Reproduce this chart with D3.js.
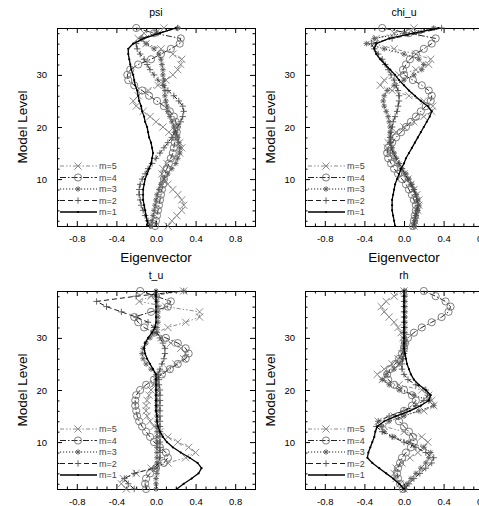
<!DOCTYPE html>
<html>
<head>
<meta charset="utf-8">
<script src="https://cdn.jsdelivr.net/npm/d3@7"></script>
<style>
  body { margin: 0; background: #fff; }
  svg { display: block; font-family: "Liberation Sans", Arial, Helvetica, sans-serif; }
</style>
</head>
<body>
<svg class="chart" width="479" height="506"></svg>
<script>
// model levels (y categories)
var levels = [1,2,3,4,5,6,7,8,9,10,11,12,13,14,15,16,17,18,19,20,
              21,22,23,24,25,26,27,28,29,30,31,32,33,34,35,36,37,38,39];

var panelNames = ["psi", "chi_u", "t_u", "rh"];
var modeNames = ["m=1", "m=2", "m=3", "m=4", "m=5"];
var xTickValues = [-0.8, -0.4, 0, 0.4, 0.8];
var xTickLabels = ["-0.8", "-0.4", "0.0", "0.4", "0.8"];
var xMinorTicks = [-0.9,-0.7,-0.6,-0.5,-0.3,-0.2,-0.1,0.1,0.2,0.3,0.5,0.6,0.7,0.9];
var yTickValues = [10, 20, 30];
var yMinorTicks = [2,4,6,8,12,14,16,18,22,24,26,28,32,34,36,38];

// eigenvectors, level 1 -> 39
var psiM1 = [-0.08,-0.09,-0.10,-0.11,-0.12,-0.13,-0.13,-0.13,-0.12,-0.11,
             -0.09,-0.07,-0.05,-0.04,-0.03,-0.04,-0.05,-0.07,-0.08,-0.09,
             -0.11,-0.12,-0.14,-0.15,-0.17,-0.18,-0.19,-0.21,-0.22,-0.23,
             -0.25,-0.26,-0.27,-0.28,-0.28,-0.23,-0.12,0.04,0.20];
var psiM2 = [-0.06,-0.08,-0.11,-0.13,-0.15,-0.16,-0.17,-0.17,-0.16,-0.14,
             -0.11,-0.08,-0.04,0.00,0.04,0.08,0.12,0.16,0.19,0.22,
             0.25,0.27,0.28,0.27,0.23,0.18,0.12,0.07,0.02,-0.02,
             -0.06,-0.09,-0.12,-0.16,-0.19,-0.20,-0.14,0.02,0.22];
var psiM3 = [-0.05,-0.04,-0.03,-0.02,-0.01,0.00,0.01,0.03,0.05,0.08,
             0.12,0.16,0.20,0.22,0.24,0.24,0.23,0.22,0.20,0.18,
             0.16,0.14,0.12,0.11,0.10,0.09,0.09,0.08,0.08,0.07,
             0.07,0.06,0.05,0.03,-0.02,-0.10,-0.15,0.00,0.22];
var psiM4 = [-0.01,0.00,0.01,0.02,0.03,0.04,0.05,0.06,0.07,0.08,
             0.09,0.11,0.13,0.15,0.17,0.18,0.19,0.20,0.21,0.21,
             0.20,0.18,0.14,0.08,0.01,-0.07,-0.14,-0.22,-0.28,-0.29,
             -0.26,-0.18,-0.05,0.05,0.15,0.24,0.25,-0.02,-0.20];
var psiM5 = [0.12,0.16,0.21,0.26,0.28,0.26,0.22,0.17,0.12,0.08,
             0.06,0.07,0.11,0.18,0.24,0.26,0.24,0.19,0.13,0.07,
             0.00,-0.06,-0.13,-0.20,-0.23,-0.18,-0.08,0.02,0.10,0.17,
             0.22,0.25,0.26,0.17,0.05,-0.10,-0.18,-0.12,0.08];

var chiM1 = [-0.09,-0.10,-0.11,-0.12,-0.12,-0.12,-0.11,-0.10,-0.09,-0.07,
             -0.05,-0.03,0.00,0.02,0.05,0.08,0.11,0.14,0.17,0.20,
             0.23,0.26,0.28,0.24,0.17,0.11,0.05,0.00,-0.05,-0.09,
             -0.14,-0.19,-0.24,-0.28,-0.30,-0.28,-0.15,0.10,0.35];
var chiM2 = [0.10,0.11,0.12,0.13,0.14,0.13,0.12,0.10,0.07,0.04,
             0.01,-0.02,-0.05,-0.08,-0.11,-0.13,-0.14,-0.14,-0.13,-0.12,
             -0.11,-0.09,-0.07,-0.06,-0.05,-0.05,-0.06,-0.08,-0.10,-0.13,
             -0.16,-0.19,-0.22,-0.26,-0.30,-0.33,-0.12,0.15,0.38];
var chiM3 = [0.10,0.11,0.12,0.14,0.15,0.14,0.12,0.10,0.08,0.05,
             0.02,-0.02,-0.05,-0.08,-0.10,-0.12,-0.13,-0.14,-0.14,-0.14,
             -0.15,-0.16,-0.18,-0.20,-0.21,-0.20,-0.17,-0.10,0.00,0.10,
             0.18,0.20,0.15,0.00,-0.20,-0.38,-0.30,0.00,0.30];
var chiM4 = [0.09,0.10,0.11,0.12,0.12,0.10,0.08,0.05,0.02,-0.02,
             -0.06,-0.10,-0.13,-0.16,-0.17,-0.16,-0.12,-0.08,-0.03,0.02,
             0.07,0.12,0.17,0.22,0.27,0.28,0.25,0.18,0.09,0.00,
             -0.01,0.02,0.06,0.12,0.20,0.28,0.32,0.05,-0.22];
var chiM5 = [0.10,0.11,0.12,0.14,0.15,0.15,0.13,0.10,0.07,0.04,
             0.00,-0.04,-0.08,-0.12,-0.15,-0.17,-0.16,-0.13,-0.08,0.00,
             0.10,0.20,0.28,0.29,0.20,0.05,-0.12,-0.24,-0.20,-0.05,
             0.12,0.25,0.27,0.12,-0.10,-0.30,-0.28,-0.10,0.10];

var tuM1 = [0.21,0.28,0.36,0.43,0.46,0.42,0.34,0.25,0.17,0.11,
            0.07,0.04,0.02,0.01,0.01,0.00,0.00,0.00,0.00,0.00,
            0.00,0.00,0.00,-0.03,-0.06,-0.09,-0.11,-0.12,-0.11,-0.08,
            -0.04,-0.01,0.00,0.00,0.00,0.00,0.00,0.00,0.00];
var tuM2 = [-0.22,-0.28,-0.32,-0.22,-0.02,0.03,0.04,0.04,0.04,0.04,
            0.04,0.04,0.04,0.04,0.04,0.04,0.04,0.04,0.04,0.04,
            0.03,0.03,0.02,0.04,0.06,0.08,0.09,0.09,0.07,0.04,
            0.01,-0.02,-0.08,-0.20,-0.35,-0.50,-0.60,-0.20,0.28];
var tuM3 = [0.00,0.00,0.00,0.01,0.01,0.01,0.01,0.01,0.01,0.01,
            0.01,0.01,0.01,0.01,0.01,0.01,0.01,0.01,0.01,0.01,
            0.01,0.01,0.00,-0.05,-0.10,-0.13,-0.14,-0.13,-0.10,-0.06,
            -0.02,0.01,0.02,0.02,0.02,0.02,0.01,0.00,0.00];
var tuM4 = [-0.10,-0.11,-0.10,-0.06,0.00,0.08,0.12,0.10,0.04,-0.02,
            -0.06,-0.10,-0.14,-0.17,-0.19,-0.20,-0.21,-0.21,-0.20,-0.16,
            -0.10,-0.02,0.06,0.14,0.22,0.30,0.33,0.30,0.22,0.10,
            -0.02,-0.12,-0.18,-0.22,-0.05,0.12,0.15,0.00,-0.16];
var tuM5 = [-0.30,-0.35,-0.33,-0.20,-0.05,0.12,0.30,0.40,0.33,0.22,
            0.12,0.04,-0.02,-0.06,-0.09,-0.10,-0.10,-0.09,-0.07,-0.05,
            -0.03,0.00,0.05,0.12,0.20,0.28,0.30,0.25,0.15,0.05,
            0.00,0.12,0.30,0.44,0.44,0.10,-0.17,-0.05,0.28];

var rhM1 = [0.00,-0.05,-0.11,-0.18,-0.25,-0.32,-0.37,-0.36,-0.34,-0.32,
            -0.30,-0.29,-0.27,-0.20,-0.08,0.06,0.17,0.25,0.27,0.22,
            0.15,0.10,0.07,0.05,0.03,0.02,0.01,0.00,0.00,0.00,
            0.00,0.00,0.00,0.00,0.00,0.00,0.00,0.00,0.00];
var rhM2 = [0.01,0.05,0.10,0.16,0.22,0.28,0.30,0.22,0.12,0.00,
            -0.12,-0.22,-0.28,-0.26,-0.15,0.00,0.12,0.20,0.24,0.22,
            0.12,0.04,0.00,-0.02,-0.02,-0.01,0.00,0.00,0.00,0.00,
            0.00,0.00,0.00,0.00,0.00,0.00,0.00,0.00,0.00];
var rhM3 = [0.00,0.03,0.07,0.12,0.17,0.22,0.25,0.27,0.20,0.05,
            -0.10,-0.20,-0.23,-0.15,0.00,0.15,0.30,0.25,0.10,-0.05,
            -0.15,-0.22,-0.18,-0.10,-0.05,-0.02,0.00,0.00,0.01,0.01,
            0.01,0.01,0.01,0.01,0.01,0.01,0.01,0.01,0.01];
var rhM4 = [-0.01,-0.04,-0.06,-0.07,-0.06,-0.04,-0.02,0.02,0.07,0.10,
            0.09,0.05,0.00,-0.05,-0.06,0.00,0.08,0.12,0.08,0.00,
            -0.10,-0.16,-0.17,-0.14,-0.09,-0.05,-0.02,0.00,0.01,0.04,
            0.10,0.18,0.28,0.38,0.45,0.47,0.42,0.32,0.20];
var rhM5 = [0.00,-0.04,-0.08,-0.10,-0.08,-0.02,0.06,0.14,0.20,0.24,
            0.18,0.00,-0.20,-0.26,-0.10,0.20,0.30,0.28,0.25,0.18,
            -0.05,-0.22,-0.27,-0.20,-0.12,-0.06,-0.02,0.00,0.00,-0.01,
            -0.03,-0.06,-0.10,-0.15,-0.20,-0.23,-0.18,-0.10,0.00];

var panelSeries = [
    [psiM1, psiM2, psiM3, psiM4, psiM5],
    [chiM1, chiM2, chiM3, chiM4, chiM5],
    [tuM1, tuM2, tuM3, tuM4, tuM5],
    [rhM1, rhM2, rhM3, rhM4, rhM5]
];

//styles per mode
var lineColors = ["#000", "#1c1c1c", "#262626", "#262626", "#8c8c8c"];
var lineWidths = [1.3, 1, 1, 1, 1];
var dashes = [null, "5,3", "1.2,1.8", "6,2,1.5,2", "4,2,1.5,2,1.5,2"];
var markerTypes = ["dot", "plus", "star", "circle", "cross"];
var markerColors = ["#000", "#555", "#5c5c5c", "#707070", "#808080"];

//layout
var plotSize = 198;
var panelOrigins = [[57, 28], [305, 28], [57, 291], [305, 291]];
var showXTitle = [true, true, false, false];
var fontFamily = '"Liberation Sans", Arial, Helvetica, sans-serif';

var chart = d3.select(".chart");

function markerPath(type) {
    var s;
    if (type === "plus") {
        s = 3.2;
        return "M" + (-s) + ",0H" + s + "M0," + (-s) + "V" + s;
    }
    if (type === "cross") {
        s = 3.6;
        return "M" + (-s) + "," + (-s) + "L" + s + "," + s + "M" + (-s) + "," + s + "L" + s + "," + (-s);
    }
    if (type === "star") {
        s = 2.8;
        var d = 2;
        return "M" + (-s) + ",0H" + s + "M0," + (-s) + "V" + s +
               "M" + (-d) + "," + (-d) + "L" + d + "," + d + "M" + (-d) + "," + d + "L" + d + "," + (-d);
    }
    return null;
}

function drawMarker(sel, type, i) {
    if (type === "circle") {
        sel.append("circle").attr("r", 3.6)
            .attr("fill", "none").attr("stroke", markerColors[i]).attr("stroke-width", 0.9);
    } else if (type === "dot") {
        sel.append("circle").attr("r", 1.1).attr("fill", markerColors[i]);
    } else {
        sel.append("path").attr("d", markerPath(type))
            .attr("fill", "none").attr("stroke", markerColors[i]).attr("stroke-width", 0.9);
    }
}

panelNames.forEach(function (name, p) {
    var origin = panelOrigins[p];
    var g = chart.append("g")
        .attr("transform", "translate(" + origin[0] + "," + origin[1] + ")");

    var x = d3.scaleLinear().domain([-1, 1]).range([0, plotSize]);
    var y = d3.scaleLinear().domain([1, 39]).range([plotSize, 0]);

    //ticks, all pointing inward
    function tidy(sel) {
        sel.select(".domain").remove();
        sel.attr("font-family", fontFamily).attr("font-size", 9.5);
        sel.selectAll("line").attr("stroke", "#000");
        sel.selectAll("text").attr("fill", "#000");
    }
    g.append("g").attr("transform", "translate(0," + plotSize + ")")
        .call(d3.axisBottom(x).tickValues(xTickValues).tickSize(-5).tickPadding(9)
            .tickFormat(function (d, i) { return xTickLabels[i]; }))
        .call(tidy);
    g.append("g").attr("transform", "translate(0," + plotSize + ")")
        .call(d3.axisBottom(x).tickValues(xMinorTicks).tickSize(-2.5).tickFormat(""))
        .call(tidy);
    g.append("g")
        .call(d3.axisTop(x).tickValues(xTickValues).tickSize(-5).tickFormat(""))
        .call(tidy);
    g.append("g")
        .call(d3.axisTop(x).tickValues(xMinorTicks).tickSize(-2.5).tickFormat(""))
        .call(tidy);
    g.append("g")
        .call(d3.axisLeft(y).tickValues(yTickValues).tickSize(-5).tickPadding(10))
        .call(tidy);
    g.append("g")
        .call(d3.axisLeft(y).tickValues(yMinorTicks).tickSize(-2.5).tickFormat(""))
        .call(tidy);
    g.append("g").attr("transform", "translate(" + plotSize + ",0)")
        .call(d3.axisRight(y).tickValues(yTickValues).tickSize(-5).tickFormat(""))
        .call(tidy);
    g.append("g").attr("transform", "translate(" + plotSize + ",0)")
        .call(d3.axisRight(y).tickValues(yMinorTicks).tickSize(-2.5).tickFormat(""))
        .call(tidy);

    //frame
    g.append("rect")
        .attr("x", 0.5).attr("y", 0.5)
        .attr("width", plotSize).attr("height", plotSize)
        .attr("fill", "none").attr("stroke", "#000").attr("stroke-width", 1);

    //series, m=5 drawn first
    var series = panelSeries[p];
    for (var i = series.length - 1; i >= 0; i--) {
        var pts = series[i].map(function (v, k) { return { v: v, lev: levels[k] }; });
        var line = d3.line()
            .x(function (d) { return x(d.v); })
            .y(function (d) { return y(d.lev); });
        g.append("path")
            .datum(pts)
            .attr("d", line)
            .attr("fill", "none")
            .attr("stroke", lineColors[i])
            .attr("stroke-width", lineWidths[i])
            .attr("stroke-dasharray", dashes[i]);
        var mk = g.append("g").selectAll("g")
            .data(pts).enter().append("g")
            .attr("transform", function (d) { return "translate(" + x(d.v) + "," + y(d.lev) + ")"; });
        drawMarker(mk, markerTypes[i], i);
    }

    //legend
    var legend = g.append("g").attr("class", "legend");
    modeNames.forEach(function (m, i) {
        var ly = 184 - i * 11.5;
        legend.append("line")
            .attr("x1", 3).attr("x2", 40).attr("y1", ly).attr("y2", ly)
            .attr("stroke", lineColors[i]).attr("stroke-width", lineWidths[i])
            .attr("stroke-dasharray", dashes[i]);
        var mg = legend.append("g").attr("transform", "translate(21," + ly + ")");
        drawMarker(mg, markerTypes[i], i);
        legend.append("text")
            .attr("x", 42).attr("y", ly).attr("dy", "0.35em")
            .attr("font-size", 9).attr("fill", "#444")
            .text(m);
    });

    //titles
    g.append("text")
        .attr("x", plotSize / 2).attr("y", -12)
        .attr("text-anchor", "middle").attr("font-size", 10.5)
        .text(name);
    g.append("text")
        .attr("transform", "translate(-30," + (plotSize / 2) + ")rotate(-90)")
        .attr("text-anchor", "middle").attr("font-size", 13.5)
        .text("Model Level");
    if (showXTitle[p]) {
        g.append("text")
            .attr("x", plotSize / 2).attr("y", plotSize + 36)
            .attr("text-anchor", "middle").attr("font-size", 13.5)
            .text("Eigenvector");
    }
});
</script>
</body>
</html>
